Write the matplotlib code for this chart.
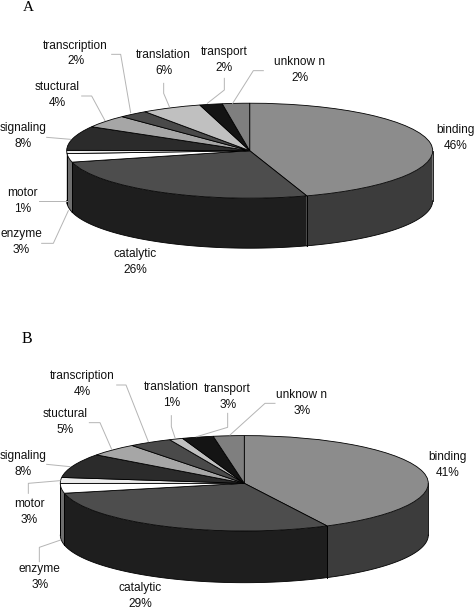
import numpy as np
import matplotlib
matplotlib.use("Agg")
import matplotlib.pyplot as plt
from matplotlib.lines import Line2D

W, H = 475, 610
categories = ["binding", "catalytic", "enzyme", "motor", "signaling", "stuctural",
              "transcription", "translation", "transport", "unknow n"]
values_a = [45.0, 26.2, 2.9, 1.1, 8.3, 4.3, 2.6, 5.3, 2.0, 2.4]
values_b = [42.6, 29.1, 3.3, 2.0, 8.2, 4.4, 3.8, 1.2, 2.75, 2.7]
printed_a = [46, 26, 3, 1, 8, 4, 2, 6, 2, 2]
printed_b = [41, 29, 3, 3, 8, 5, 4, 1, 3, 3]

top_colors = ["#8c8c8c", "#4d4d4d", "#ffffff", "#ececec", "#2b2b2b",
              "#a6a6a6", "#4a4a4a", "#c0c0c0", "#141414", "#7f7f7f"]
side_colors = ["#3c3c3c", "#1e1e1e", "#6e6e6e", "#6e6e6e", "#111111",
               "#444444", "#222222", "#555555", "#080808", "#333333"]

label_pos_a = [(455.5, 138.3), (135.3, 261.7), (21.5, 242), (22.7, 200.7), (23.5, 136.3),
               (57.3, 95), (75.7, 53.5), (163.7, 63.3), (224.3, 60), (300, 70)]
label_pos_b = [(447.7, 464.7), (140.3, 596.3), (39.7, 576.7), (29.3, 512.3), (23.5, 463.7),
               (65, 422), (82, 384), (171.3, 395), (227.7, 397.3), (302, 402.7)]

# leader lines, in 3x zoom pixels of each panel
leaders_a = [[(335, 163), (362, 163), (392, 338)], [(245, 288), (275, 288), (315, 362)],
             [(491, 250), (491, 280), (508, 320)], [(673, 235), (673, 270), (622, 310)],
             [(790, 212), (760, 212), (698, 310)], [(140, 412), (212, 418)],
             [(118, 604), (200, 604)], [(125, 730), (160, 730), (205, 632)]]
leaders_b = [[(350, 195), (378, 195), (445, 365)], [(268, 308), (300, 308), (335, 388)],
             [(514, 287), (514, 320), (525, 353)], [(683, 280), (683, 322), (590, 350)],
             [(825, 250), (795, 250), (690, 345)], [(140, 433), (210, 440)],
             [(85, 520), (85, 490), (180, 482)], [(118, 725), (118, 682), (182, 660)]]

fig = plt.figure(figsize=(W / 100, H / 100), dpi=100, facecolor="white")


def fx(x):
    return x / W


def fy(y):
    return 1 - y / H


def pie3d(values, cx, cy, rx, ry, depth):
    margin = 6
    left = cx - rx - margin
    right = cx + rx + margin
    top = cy - ry - margin
    bottom = cy + ry + depth + margin
    ax = fig.add_axes([fx(left), fy(bottom), (right - left) / W, (bottom - top) / H])
    ax.pie(values, colors=top_colors, startangle=90, counterclock=False, radius=1,
           wedgeprops=dict(edgecolor="black", linewidth=0.6))
    ax.set_aspect("auto")
    ax.set_xlim(-1 - margin / rx, 1 + margin / rx)
    ax.set_ylim(-1 - (depth + margin) / ry, 1 + margin / ry)
    ax.axis("off")
    d = depth / ry
    edges = np.concatenate([[0], np.cumsum(values)]) / np.sum(values) * 360
    for i in range(len(values)):
        a = max(edges[i], 90)
        b = min(edges[i + 1], 270)
        if b <= a:
            continue
        th = np.radians(np.linspace(a, b, 80))
        x = np.sin(th)
        y = np.cos(th)
        ax.fill_between(x, y, y - d, facecolor=side_colors[i], edgecolor="none", zorder=0.5)
        ax.plot(x, y - d, color="black", lw=0.6, zorder=0.6)
        ax.plot([x[0], x[0]], [y[0], y[0] - d], color="black", lw=0.6, zorder=0.6)
        ax.plot([x[-1], x[-1]], [y[-1], y[-1] - d], color="black", lw=0.6, zorder=0.6)
    return ax


def labels(printed, positions, leaders, y0):
    for name, pct, (x, y) in zip(categories, printed, positions):
        fig.text(fx(x), fy(y), f"{name}\n{pct}%", ha="center", va="center", ma="center",
                 family="Liberation Sans", fontsize=8.6, color="#111111", linespacing=1.42)
    for seg in leaders:
        xs = [fx(p[0] / 3) for p in seg]
        ys = [fy(p[1] / 3 + y0) for p in seg]
        fig.add_artist(Line2D(xs, ys, color="#b4b4b4", lw=0.7, transform=fig.transFigure))


pie3d(values_a, 249.7, 150.7, 183, 47.5, 50)
pie3d(values_b, 244.3, 483.3, 184, 47.7, 51.7)
labels(printed_a, label_pos_a, leaders_a, 0)
labels(printed_b, label_pos_b, leaders_b, 320)

fig.text(fx(28), fy(7.5), "A", ha="center", va="center", family="Liberation Serif", fontsize=11, color="black")
fig.text(fx(27), fy(339.3), "B", ha="center", va="center", family="Liberation Serif", fontsize=11.5, color="black")

fig.savefig("out.png", dpi=100, facecolor="white")
